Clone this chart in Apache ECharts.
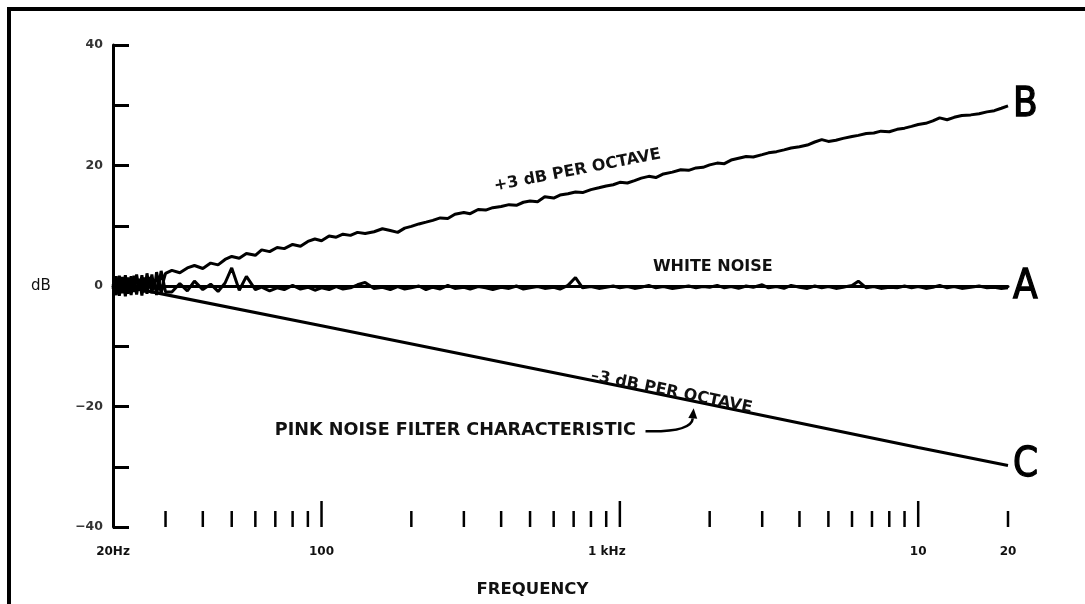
<!DOCTYPE html>
<html><head><meta charset="utf-8">
<script src="https://cdn.jsdelivr.net/npm/echarts@6/dist/echarts.min.js"></script>
<style>html,body{margin:0;padding:0;background:#fff}#c{width:1085px;height:604px}</style>
</head><body><div id="c"></div>
<script>
// ---- data ----
const freqs = [
  20,20.5,21,21.5,22,22.5,23,23.5,24,24.5,
  25,25.5,26,26.5,27,27.5,28,28.5,29,29.5,
  30,31.5,33.5,
  35.5,37.5,40,42.5,45,47.5,50,53,56,60,
  63,67,71,75,80,85,90,95,100,106,
  112,118,125,132,140,150,160,170,180,190,
  200,212,224,236,250,265,280,300,315,335,
  355,375,400,425,450,475,500,530,560,600,
  630,670,710,750,800,850,900,950,1000,1060,
  1120,1180,1250,1320,1400,1500,1600,1700,1800,1900,
  2000,2120,2240,2360,2500,2650,2800,3000,3150,3350,
  3550,3750,4000,4250,4500,4750,5000,5300,5600,6000,
  6300,6700,7100,7500,8000,8500,9000,9500,10000,10600,
  11200,11800,12500,13200,14000,15000,16000,17000,18000,19000,
  20000
];
const plus3dB = [
  0.3,-1.5,1.7,-1.2,1.8,-1.3,1.6,-1.0,1.9,-0.8,
  1.8,-1.1,2.1,-0.4,1.9,-0.6,2.3,0.2,2.5,0.8,
  2.1,2.6,2.2,
  3.0,3.4,2.9,3.8,3.5,4.4,4.9,4.6,5.4,5.1,
  6.0,5.7,6.4,6.2,6.9,6.6,7.4,7.8,7.5,8.3,
  8.1,8.6,8.4,8.9,8.7,9.0,9.5,9.2,8.9,9.6,
  9.9,10.3,10.6,10.9,11.3,11.2,11.9,12.2,12.0,12.7,
  12.6,13.0,13.2,13.5,13.4,13.9,14.1,14.0,14.8,14.6,
  15.1,15.3,15.6,15.5,16.0,16.3,16.6,16.8,17.2,17.1,
  17.5,17.9,18.2,18.0,18.6,18.9,19.3,19.2,19.6,19.7,
  20.1,20.4,20.3,20.9,21.2,21.5,21.4,21.8,22.1,22.3,
  22.6,22.9,23.1,23.4,23.9,24.3,24.0,24.2,24.5,24.8,
  25.0,25.3,25.4,25.7,25.6,26.0,26.2,26.5,26.8,27.0,
  27.4,27.9,27.6,28.0,28.3,28.4,28.6,28.9,29.1,29.5,
  29.9
];
const whiteNoise = [
  -0.5,1.6,-1.6,1.5,-1.7,1.4,-1.5,1.7,-1.4,1.2,
  -1.6,1.4,-1.3,1.5,-1.2,1.1,-1.5,1.0,-1.3,0.8,
  -1.0,-1.0,0.4,
  -0.8,0.8,-0.6,0.3,-0.9,0.5,3.0,-0.7,1.6,-0.6,
  -0.2,-0.8,-0.3,-0.6,0.1,-0.5,-0.2,-0.7,-0.3,-0.6,
  -0.1,-0.5,-0.3,0.2,0.6,-0.4,-0.2,-0.6,-0.1,-0.5,
  -0.3,0.0,-0.6,-0.2,-0.5,0.1,-0.4,-0.2,-0.5,-0.1,
  -0.3,-0.6,-0.2,-0.4,0.0,-0.5,-0.3,-0.1,-0.4,-0.2,
  -0.5,0.1,1.4,-0.3,-0.1,-0.4,-0.2,0.0,-0.3,-0.1,
  -0.4,-0.2,0.1,-0.3,-0.1,-0.4,-0.2,0.0,-0.3,-0.1,
  -0.2,0.1,-0.3,-0.1,-0.4,0.0,-0.2,0.2,-0.3,-0.1,
  -0.4,0.1,-0.2,-0.4,0.0,-0.3,-0.1,-0.4,-0.2,0.1,
  0.8,-0.3,-0.1,-0.4,-0.2,-0.3,0.0,-0.3,-0.1,-0.4,
  -0.2,0.1,-0.3,-0.1,-0.4,-0.2,0.0,-0.3,-0.2,-0.4,
  -0.3
];
const pinkFreqs = [20, 100, 1000, 10000, 20000];
const pinkValues = [0.3, -6.6, -16.6, -26.8, -29.8];

const xLabelValues = [20, 100, 1000, 10000, 20000];
const xLabelTexts = ['20Hz', '100', '1 kHz', '10', '20'];
const yLabelValues = [-40, -20, 0, 20, 40];
const minorTicks = [30,40,50,60,70,80,90,200,300,400,500,600,700,800,900,
                    2000,3000,4000,5000,6000,7000,8000,9000,20000];
const majorTicks = [100, 1000, 10000];

const annotationTexts = ['+3 dB PER OCTAVE', 'WHITE NOISE', '\u20133 dB PER OCTAVE', 'PINK NOISE FILTER CHARACTERISTIC'];
const annotationFreqs = [721, 2050, 1490, 281];
const annotationDb = [19.2, 3.1, -17.6, -24.0];
const annotationAngle = [11, 0, -11.5, 0];
const annotationSize = [16, 16, 16, 17.6];
const arrowFrom = [1219, -24.1];
const arrowTo = [1767, -20.3];

// ---- chart ----
const chart = echarts.init(document.getElementById('c'), null, {renderer: 'canvas'});
const labelFont = "'DejaVu Sans', sans-serif";
const bigFont = "'Liberation Sans Narrow', 'DejaVu Sans Condensed', sans-serif";

function endLbl(t) {
  return {show: true, formatter: t, fontSize: 40, fontFamily: bigFont, color: '#000',
          textBorderColor: '#000', textBorderWidth: 1.3, distance: 5};
}
function tickSeries(list, len) {
  return {
    type: 'custom', silent: true, z: 5,
    data: list.map(f => [f, -40]),
    renderItem: function (params, api) {
      const p = api.coord([api.value(0), -40]);
      return {type: 'line', shape: {x1: p[0], y1: p[1], x2: p[0], y2: p[1] - len},
              style: {stroke: '#000', lineWidth: 2.5}};
    }
  };
}

const option = {
  animation: false,
  backgroundColor: '#fff',
  graphic: [{
    type: 'rect', shape: {x: 9, y: 9, width: 1400, height: 900},
    style: {fill: 'none', stroke: '#000', lineWidth: 4}
  }],
  grid: {left: 113, right: 77, top: 45, bottom: 77, containLabel: false, outerBoundsMode: 'none'},
  xAxis: {
    type: 'log', logBase: 10, min: 20, max: 20000,
    name: 'FREQUENCY', nameLocation: 'middle', nameGap: 54,
    nameTextStyle: {fontFamily: labelFont, fontWeight: 'bold', fontSize: 16.5, color: '#111', padding: [0, 56, 0, 0]},
    axisLine: {lineStyle: {color: '#000', width: 3}},
    axisTick: {show: false},
    splitLine: {show: false},
    minorTick: {show: false},
    axisLabel: {
      customValues: xLabelValues,
      margin: 19,
      fontFamily: labelFont, fontWeight: 'bold', fontSize: 12, color: '#111',
      formatter: function (v) {
        let best = 0, d = Infinity;
        xLabelValues.forEach((x, i) => { const dd = Math.abs(Math.log(x) - Math.log(v)); if (dd < d) { d = dd; best = i; } });
        if (d > 0.01) return '';
        return best === 2 ? '{k|' + xLabelTexts[best] + '}' : xLabelTexts[best];
      },
      rich: {k: {fontFamily: labelFont, fontWeight: 'bold', fontSize: 12, color: '#111', padding: [0, 26, 0, 0]}}
    }
  },
  yAxis: {
    type: 'value', min: -40, max: 40, interval: 10,
    name: 'dB', nameLocation: 'middle', nameGap: 72, nameRotate: 0,
    nameTextStyle: {fontFamily: labelFont, fontSize: 15, color: '#111', align: 'center', verticalAlign: 'middle'},
    axisLine: {show: true, lineStyle: {color: '#000', width: 3}},
    axisTick: {show: true, inside: true, length: 16, lineStyle: {color: '#000', width: 3}},
    splitLine: {show: false},
    axisLabel: {
      margin: 10, fontFamily: labelFont, fontWeight: 'bold', fontSize: 12.5, color: '#333',
      formatter: v => (yLabelValues.indexOf(v) >= 0 ? String(v).replace('-', '\u2212') : '')
    }
  },
  series: [
    {
      name: 'C', type: 'line', showSymbol: false, symbol: 'none', z: 3,
      data: pinkFreqs.map((f, i) => [f, pinkValues[i]]),
      lineStyle: {color: '#000', width: 3.2},
      endLabel: endLbl('C')
    },
    {
      name: 'A', type: 'line', showSymbol: false, symbol: 'none', z: 3,
      data: freqs.map((f, i) => [f, whiteNoise[i]]),
      lineStyle: {color: '#000', width: 3},
      endLabel: endLbl('A')
    },
    {
      name: 'B', type: 'line', showSymbol: false, symbol: 'none', z: 3,
      data: freqs.map((f, i) => [f, plus3dB[i]]),
      lineStyle: {color: '#000', width: 3},
      endLabel: endLbl('B')
    },
    tickSeries(minorTicks, 16),
    tickSeries(majorTicks, 26),
    {
      type: 'custom', silent: true, z: 6,
      data: annotationTexts.map((t, i) => [annotationFreqs[i], annotationDb[i], i]),
      renderItem: function (params, api) {
        const i = api.value(2);
        const p = api.coord([api.value(0), api.value(1)]);
        return {
          type: 'text', x: p[0], y: p[1], rotation: annotationAngle[i] * Math.PI / 180,
          style: {text: annotationTexts[i], fill: '#111', align: 'center', verticalAlign: 'middle',
                  font: 'bold ' + annotationSize[i] + "px 'DejaVu Sans', sans-serif"}
        };
      }
    },
    {
      type: 'custom', silent: true, z: 6,
      data: [[arrowFrom[0], arrowFrom[1], arrowTo[0], arrowTo[1]]],
      renderItem: function (params, api) {
        const a = api.coord([api.value(0), api.value(1)]);
        const b = api.coord([api.value(2), api.value(3)]);
        const cx = b[0] - 2, cy = a[1] + 1;
        const tipDx = b[0] - cx, tipDy = b[1] - cy;
        const L = Math.hypot(tipDx, tipDy), ux = tipDx / L, uy = tipDy / L;
        const hl = 10, hw = 4.5;
        const bx = b[0] - ux * hl, by = b[1] - uy * hl;
        return {
          type: 'group', children: [
            {type: 'bezierCurve', shape: {x1: a[0], y1: a[1], x2: bx, y2: by, cpx1: cx, cpy1: cy},
             style: {stroke: '#000', lineWidth: 2.5, fill: 'none'}},
            {type: 'polygon', shape: {points: [[b[0], b[1]], [bx - uy * hw, by + ux * hw], [bx + uy * hw, by - ux * hw]]},
             style: {fill: '#000'}}
          ]
        };
      }
    }
  ]
};
chart.setOption(option);
</script>
</body></html>
